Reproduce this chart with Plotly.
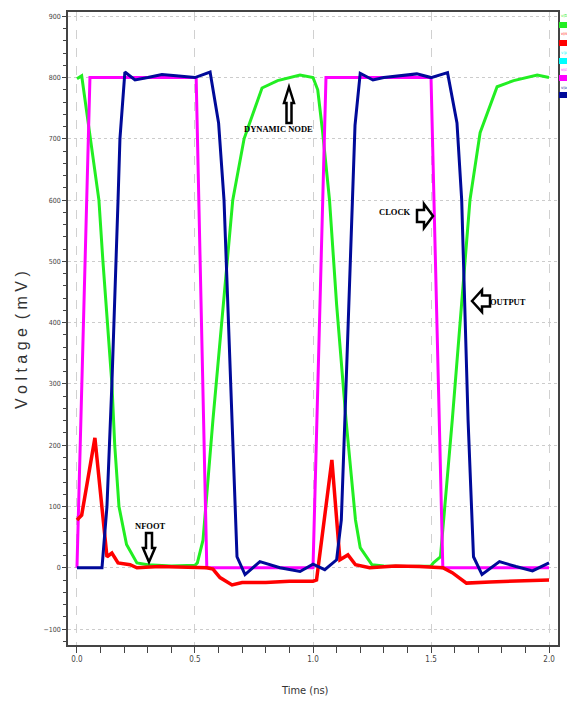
import plotly.graph_objects as go

# ---------------- data ----------------
t_dn = [0.0, 0.01, 0.02, 0.093, 0.11, 0.148, 0.16, 0.178, 0.21, 0.254, 0.3, 0.4, 0.5, 0.51,
        0.534, 0.576, 0.66, 0.708, 0.784, 0.85, 0.945, 1.0, 1.02, 1.04, 1.07, 1.1, 1.14, 1.18,
        1.2, 1.25, 1.3, 1.4, 1.5, 1.51, 1.54, 1.59, 1.665, 1.708, 1.78, 1.85, 1.95, 2.0]
v_dn = [798, 800, 803, 600, 500, 300, 200, 100, 38, 8, 5, 3, 4, 8,
        45, 241, 600, 700, 783, 795, 804, 800, 780, 714, 600, 430, 241, 78,
        33, 5, 3, 2, 3, 8, 18, 241, 600, 710, 785, 795, 804, 800]

t_nf = [0.0, 0.02, 0.076, 0.11, 0.127, 0.148, 0.174, 0.225, 0.254, 0.35, 0.45, 0.55, 0.576,
        0.606, 0.657, 0.7, 0.8, 0.9, 1.0, 1.015, 1.08, 1.114, 1.148, 1.18, 1.24, 1.35, 1.45,
        1.55, 1.59, 1.65, 1.75, 1.9, 2.0]
v_nf = [78, 86, 212, 78, 18, 24, 8, 5, 0, 2, 1, 0, -2,
        -16, -28, -24, -24, -22, -22, -20, 176, 13, 21, 5, 0, 3, 2,
        0, -8, -25, -23, -21, -20]

t_clk = [0.0, 0.055, 0.505, 0.55, 1.0, 1.055, 1.5, 1.55, 2.0]
v_clk = [0, 800, 800, 0, 0, 800, 800, 0, 0]

t_out = [0.0, 0.106, 0.127, 0.148, 0.174, 0.182, 0.203, 0.246, 0.3, 0.36, 0.42, 0.5, 0.564,
         0.6, 0.623, 0.657, 0.678, 0.712, 0.775, 0.86, 0.945, 1.0, 1.05, 1.1, 1.12, 1.135,
         1.165, 1.178, 1.2, 1.254, 1.3, 1.35, 1.44, 1.5, 1.57, 1.61, 1.63, 1.657, 1.68, 1.716,
         1.79, 1.86, 1.93, 2.0]
v_out = [0, 0, 100, 300, 600, 700, 809, 796, 800, 805, 803, 800, 809,
         726, 600, 241, 18, -11, 10, 0, -6, 6, -3, 13, 78, 241,
         600, 722, 807, 796, 800, 802, 806, 800, 808, 726, 600, 241, 18, -11,
         10, 2, -5, 8]

series_names = ["v(DN)", "v(nfoot)", "v(pl)", "v(clk)", "v(out)"]
series_colors = ["#22ee22", "#ff0000", "#00ffff", "#ff00ff", "#000a99"]

y_tick_vals = [-100, 0, 100, 200, 300, 400, 500, 600, 700, 800, 900]
x_tick_vals = [0.0, 0.5, 1.0, 1.5, 2.0]
x_tick_text = ["0.0", "0.5", "1.0", "1.5", "2.0"]

# ---------------- layout helpers ----------------
# page is 575x704, but the browser body has an 8px margin, so the figure is
# sized/offset to compensate. Positions below are in page pixels.
OFF = 8
PAGE_W, PAGE_H = 575, 704
PL, PR, PT, PB = 68, 558, 12, 645          # plot area in page pixels
W, H = PAGE_W - OFF, PAGE_H - OFF
PW, PH = PR - PL, PB - PT


def px(x):
    return (x - PL) / PW


def py(y):
    return (PB - y) / PH


NARROW = "Liberation Sans Narrow, DejaVu Sans Condensed, Arial Narrow, Liberation Sans, sans-serif"
SERIF = "Liberation Serif, Times New Roman, serif"

fig = go.Figure()
fig.add_trace(go.Scatter(x=t_dn, y=v_dn, mode="lines", name=series_names[0],
                         line=dict(color=series_colors[0], width=3)))
fig.add_trace(go.Scatter(x=t_clk, y=v_clk, mode="lines", name=series_names[3],
                         line=dict(color=series_colors[3], width=3)))
fig.add_trace(go.Scatter(x=t_nf, y=v_nf, mode="lines", name=series_names[1],
                         line=dict(color=series_colors[1], width=3.5)))
fig.add_trace(go.Scatter(x=t_out, y=v_out, mode="lines", name=series_names[4],
                         line=dict(color=series_colors[4], width=3)))

shapes = []
annotations = []


def arrow(tipx, tipy, path):
    shapes.append(dict(type="path", xref="paper", yref="paper",
                       xsizemode="pixel", ysizemode="pixel",
                       xanchor=px(tipx), yanchor=py(tipy), path=path,
                       fillcolor="white", line=dict(color="black", width=2.5)))


# block arrows (pixel paths relative to tip, y positive = up)
arrow(289, 87, "M 0,0 L 5,-16 L 2.5,-16 L 2.5,-36 L -2.5,-36 L -2.5,-16 L -5,-16 Z")
arrow(433, 216, "M 0,0 L -9,12 L -9,6 L -16,6 L -16,-6 L -9,-6 L -9,-12 Z")
arrow(472, 301, "M 0,0 L 10,11 L 10,5.5 L 18,5.5 L 18,-5.5 L 10,-5.5 L 10,-11 Z")
arrow(149, 562, "M 0,0 L 6,14 L 3,14 L 3,29 L -3,29 L -3,14 L -6,14 Z")


def label(text, x, y, size=9, color="black", family=SERIF, xanchor="center", angle=0):
    annotations.append(dict(text=text, x=px(x), y=py(y), xref="paper", yref="paper",
                            showarrow=False, xanchor=xanchor, yanchor="middle",
                            textangle=angle, font=dict(family=family, size=size, color=color)))


label("<b>DYNAMIC NODE</b>", 278, 129, size=8.5)
label("<b>CLOCK</b>", 395, 212, size=8.5)
label("<b>OUTPUT</b>", 508, 302, size=8.5)
label("<b>NFOOT</b>", 150, 526, size=8.5)

# axis titles
label("V o l t a g e  ( m V )", 22, 340, size=16, color="#333333",
      family="Liberation Sans, Arial, sans-serif", angle=-90)
label("Time (ns)", 305, 690, size=11, color="#333333", family=NARROW)

# legend (right margin)
leg_y = [(15, 25), (34, 43), (53, 61), (70, 78), (87, 95)]
for name, col, (ty, by) in zip(series_names, series_colors, leg_y):
    label(name, 559, ty, size=4, color=col, family=NARROW, xanchor="left")
    shapes.append(dict(type="rect", xref="paper", yref="paper",
                       x0=px(559), x1=px(577), y0=py(by + 3), y1=py(by - 3),
                       fillcolor=col, line=dict(width=0)))

# faint title-box line at the top
shapes.append(dict(type="line", xref="paper", yref="paper",
                   x0=px(275), x1=px(562), y0=py(4), y1=py(4),
                   line=dict(color="#c8d0f0", width=2)))

fig.update_layout(
    width=W, height=H,
    margin=dict(l=PL - OFF, r=W - (PR - OFF), t=PT - OFF, b=H - (PB - OFF), pad=0),
    paper_bgcolor="white", plot_bgcolor="white",
    showlegend=False,
    shapes=shapes, annotations=annotations,
    xaxis=dict(range=[-0.038, 2.038], tickvals=x_tick_vals, ticktext=x_tick_text,
               ticks="outside", ticklen=6, tickcolor="#444", tickwidth=1,
               minor=dict(dtick=0.1, ticks="outside", ticklen=6, tickcolor="#444",
                          showgrid=False),
               showgrid=True, gridcolor="#d0d0d0", griddash="dash", gridwidth=1,
               showline=True, linecolor="#444", linewidth=1.5, mirror=True,
               zeroline=False, automargin=False,
               tickfont=dict(family=NARROW, size=8, color="#444")),
    yaxis=dict(range=[-126, 907], tickvals=y_tick_vals,
               ticks="outside", ticklen=4, tickcolor="#444", tickwidth=1,
               minor=dict(dtick=20, ticks="outside", ticklen=3, tickcolor="#444",
                          showgrid=False),
               showgrid=True, gridcolor="#cccccc", griddash="dot", gridwidth=1,
               showline=True, linecolor="#444", linewidth=1.5, mirror=True,
               zeroline=False, automargin=False,
               tickfont=dict(family=NARROW, size=7, color="#444")),
)

fig.write_html("out.html")
